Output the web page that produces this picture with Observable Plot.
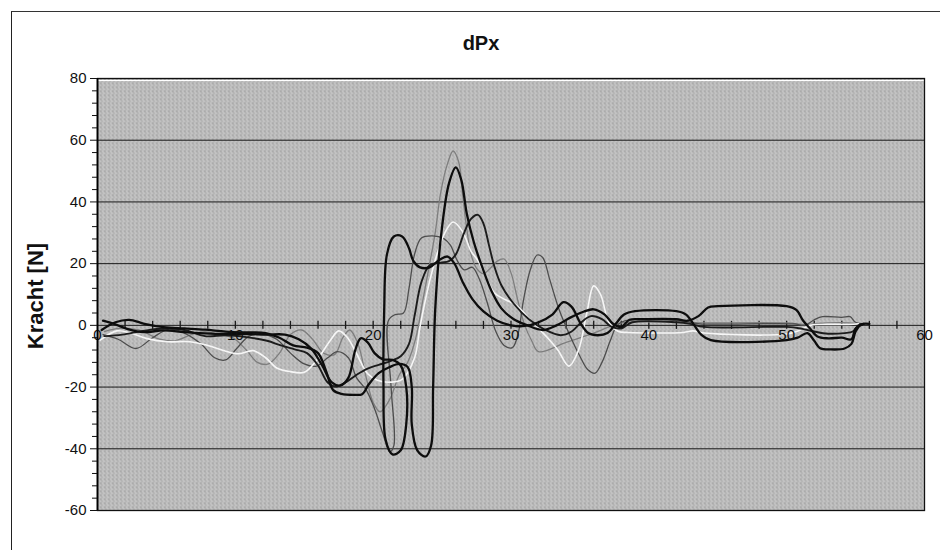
<!DOCTYPE html>
<html><head><meta charset="utf-8">
<script src="https://cdn.jsdelivr.net/npm/d3@7"></script>
<script src="https://cdn.jsdelivr.net/npm/@observablehq/plot@0.6"></script>
<style>
body{margin:0;background:#fff;width:941px;height:550px;overflow:hidden;position:relative;font-family:"Liberation Sans",Arial,sans-serif;color:#111;}
#frame{position:absolute;left:11px;top:11px;width:928px;height:560px;border-left:1.5px solid #222;border-top:1.5px solid #333;}
#title{position:absolute;left:431px;width:100px;top:30px;text-align:center;font-weight:bold;font-size:20px;line-height:26px;}
#chart{position:absolute;left:0;top:62px;}
#ylabel{position:absolute;left:36px;top:296px;transform:translate(-50%,-50%) rotate(-90deg);font-weight:bold;font-size:22px;white-space:nowrap;}
</style></head>
<body>
<div id="frame"></div>
<div id="title">dPx</div>
<div id="ylabel">Kracht [N]</div>
<div id="chart"></div>
<script>
// ---- data ----
const seriesA = [[0.4,1.5],[1.2,0.5],[2.2,-1.2],[3.4,-2.2],[4.8,-1.6],[6.3,-2.2],[7.8,-2.6],[9.3,-2.8],[10.8,-2.8],[12.3,-3],[13.6,-3],[14.6,-4.5],[15.5,-7.5],[16.3,-13],[17,-18.5],[17.6,-19.5],[18.2,-17],[18.7,-8],[19.1,-4.2],[19.6,-5.5],[20.1,-9],[20.7,-11],[21.4,-11.2],[22,-13],[22.4,-20],[22.4,-32],[22,-40.5],[21.4,-41.8],[20.9,-37],[20.75,-20],[20.8,5],[21.0,23],[21.5,28.8],[22.1,28.8],[22.6,25],[22.9,21],[23.4,18.8],[24.1,18.8],[24.8,21.2],[25.4,22.3],[25.9,20],[26.5,14],[27.2,8.5],[28,4.5],[29,1.5],[30,0],[31,-0.2],[32,1],[33,3.5],[33.8,7.5],[34.4,6],[35,1],[35.6,-2.5],[36.3,-3.2],[37,-2.5],[37.6,0.5],[38.2,3.5],[39,4.6],[42,4.6],[42.7,3.5],[43.3,0],[43.8,-3],[44.5,-4.8],[50,-4.8],[50.8,-4],[51.5,-2.5],[52,-5],[52.4,-7.3],[53.2,-7.8],[54.2,-7.5],[54.7,-6],[55,-2],[55.4,0.3],[56,0.5]];
const seriesB = [[0.3,-1.5],[1.3,1],[2.3,1.8],[3.4,0.5],[4.8,-0.6],[6.3,-1],[7.8,-1.4],[9.3,-2],[10.8,-2.3],[12.2,-2.5],[13.2,-4],[14.2,-6.5],[15.2,-7.2],[16,-9],[16.6,-15],[17.1,-21],[17.7,-22.2],[18.6,-22.5],[19.2,-22.3],[19.7,-19],[20.4,-15.5],[21.2,-13.5],[21.9,-12.5],[22.5,-13.5],[22.8,-20],[22.8,-32],[23.2,-40.5],[23.8,-42.5],[24.2,-39],[24.35,-20],[24.5,5],[24.9,28],[25.5,46],[26.0,51.2],[26.4,47],[26.8,36],[27.3,27],[27.9,19],[28.6,11],[29.3,5.5],[30.2,2],[31.2,0],[32.3,-1.5],[33.3,0],[34.3,2.5],[35.3,4.5],[36,5.2],[36.8,3.5],[37.4,0.5],[38,-0.5],[38.6,1.8],[39.5,2],[42,2],[42.8,1.5],[43.6,3],[44.3,5.8],[45,6.2],[50,6.2],[50.7,5],[51.2,1.5],[51.7,-1],[52.2,-3.5],[53,-4.2],[54,-4],[54.7,-4.5],[55,-1],[55.5,0.3]];
const seriesC = [[0.5,-3.5],[1.8,-3],[3.3,-1.8],[4.8,-1],[6.3,-1.5],[7.8,-3.5],[9.3,-3.2],[10.8,-3.8],[12.3,-5],[13.3,-6.5],[14.3,-7.8],[15.2,-9],[16,-13],[16.7,-18.5],[17.3,-19.8],[18,-18.5],[18.8,-16],[19.6,-14],[20.4,-12.8],[21.3,-11.5],[22.0,-10],[22.6,-6],[23.0,3],[23.5,14],[24.1,19.5],[24.9,20.3],[25.5,20.8],[26.0,23],[26.6,30],[27.1,34.5],[27.6,35.8],[28.0,33],[28.4,26],[28.8,19],[29.3,13],[30.2,7],[31.3,2],[32.5,-1.5],[33.6,-3.2],[34.4,-2],[35.1,1],[35.8,3],[36.6,2],[37.3,-0.5],[38,-1],[38.8,1],[42,1],[43,0.5],[44,-0.5],[50,-0.5],[51,-1],[52,-2],[53,-2.7],[54.2,-2.5],[54.8,-2],[55.2,0],[55.6,0.5]];
const seriesD = [[0.4,-3],[1.5,-4.5],[2.8,-7.5],[4,-4],[5.2,-1.2],[6.3,-2.5],[7.5,-6],[8.5,-10.5],[9.3,-11.2],[10.1,-7.5],[11,-3.5],[12,-2.8],[13,-4.5],[14,-9],[15,-12.5],[15.9,-13.2],[16.7,-10.5],[17.4,-8.5],[18.2,-10.5],[18.8,-17],[19.5,-21],[20.1,-27],[20.7,-35],[21.2,-41],[21.5,-39],[21.3,-20],[21.1,1.5],[21.6,3.5],[22.2,4],[22.6,12],[23.0,23],[23.5,28.3],[24.3,29],[25.1,28.2],[25.6,26],[26.1,21],[26.6,18],[27.2,18.8],[27.7,15],[28.3,7],[28.9,-2],[29.5,-6.5],[30.1,-7.2],[30.5,-3],[30.9,8],[31.4,18],[31.9,22.8],[32.3,22],[32.8,15],[33.5,5],[34.3,-3.5],[35,-10],[35.6,-14.5],[36.1,-15.5],[36.6,-12],[37.2,-5],[37.7,0],[38.3,1.5],[42.3,1.5],[43,1],[43.7,0.5],[50.5,0.5],[51.3,0],[52,1.8],[52.6,2.8],[54,2.6],[54.6,2.8],[55,1],[55.6,0.5]];
const seriesE = [[0.5,-2],[1.6,-1],[3,-1.5],[4.5,-4.5],[5.6,-5],[6.8,-3],[7.8,-2],[8.8,-3],[9.8,-4],[10.8,-8],[11.6,-12],[12.4,-12.5],[13.2,-9],[14,-3],[14.8,-1.5],[15.6,-4.5],[16.4,-9],[17.2,-9.5],[17.8,-4],[18.3,-1.5],[18.9,-6],[19.5,-17],[20.0,-25],[20.5,-28],[21.2,-24],[21.9,-16],[22.5,-12],[23.1,-4],[23.6,8],[24.1,20],[24.5,30],[24.9,43],[25.4,52.5],[25.8,56.5],[26.2,53],[26.5,42],[26.8,31],[27.1,23],[27.5,18.5],[28,16.8],[28.5,18.5],[29.0,20.8],[29.5,21.5],[30,17],[30.5,8],[31,0],[31.5,-5],[32,-8.5],[34,-5.5],[36,-2.5],[37.7,0.5],[38.5,1],[42,1],[43.5,0.8],[50,0.8],[51.3,0.3],[52,0.5],[53,0.8],[54.5,0.8],[55.3,0.5],[56,0.5]];
const seriesF = [[0.2,-4.8],[1.4,-1.8],[2.4,-2.5],[3.6,-4.3],[5.1,-5.3],[6.7,-5.3],[8,-6.5],[9.2,-8.2],[10.2,-9.2],[11.3,-8.2],[12.2,-10.5],[13,-13.8],[14,-15],[15,-15.2],[15.9,-11.3],[16.9,-4.8],[17.5,-1.8],[18.1,-3.8],[18.8,-9.2],[19.6,-15.7],[20.3,-17.8],[21.3,-18.4],[22.1,-17.5],[23.0,-10.6],[23.4,-0.4],[24.1,14.4],[24.7,24],[25.2,30],[25.8,33.5],[26.5,30.3],[27.1,24],[27.6,21],[28.1,16.5],[28.8,10.5],[29.6,8.3],[30.4,6.5],[31.2,2.7],[32.6,-3.8],[33.4,-8],[34.2,-13.2],[34.9,-8],[35.5,4],[36,12.8],[36.5,10],[37.1,1],[37.8,-2],[38.5,-2.3],[42.5,-2.3],[43.2,-1.8],[44,-2.5],[50,-2.8],[51,-1.5],[51.7,0],[52.5,0.3],[54.5,0.3],[55.2,0.5]];

const seriesNames = ["E","D","F","C","A","B"];
const seriesData = {A: seriesA, B: seriesB, C: seriesC, D: seriesD, E: seriesE, F: seriesF};
const seriesColor = {A: "#0d0d0d", B: "#0d0d0d", C: "#1c1c1c", D: "#4d4d4d", E: "#7e7e7e", F: "#f6f6f6"};
const seriesWidth = {A: 2.3, B: 2.3, C: 1.9, D: 1.3, E: 1.3, F: 1.6};

const xDomain = [0, 60];
const yDomain = [-60, 80];
const yMajorTicks = [-60, -40, -20, 0, 20, 40, 60, 80];
const yMinorTicks = [-56,-52,-48,-44,-36,-32,-28,-24,-16,-12,-8,-4,4,8,12,16,24,28,32,36,44,48,52,56,64,68,72,76];
const yGrid = [-40, -20, 0, 20, 40, 60];
const xTickMarks = [2,4,6,8,10,12,14,16,18,20,22,24,26,28,30,32,34,36,38,40,42,44,46,48,50,52,54,56,58];
const xTickLabels = [0, 10, 20, 30, 40, 50, 60];
const xTickHalf = 1.3;

// ---- build ----
const rows = [];
for (const s of seriesNames) seriesData[s].forEach(([x, y], i) => rows.push({s, i, x, y}));

const lineMarks = seriesNames.map(s => Plot.line(rows.filter(r => r.s === s), {
  x: "x", y: "y", stroke: seriesColor[s], strokeWidth: seriesWidth[s],
  curve: "catmull-rom", strokeLinejoin: "round", strokeLinecap: "round"
}));

const chart = Plot.plot({
  width: 941, height: 488,
  marginTop: 16, marginLeft: 97, marginRight: 17, marginBottom: 40,
  style: {fontFamily: '"Liberation Sans", Arial, sans-serif', fontSize: "15px", background: "transparent", color: "#111"},
  x: {domain: xDomain, axis: null},
  y: {domain: yDomain, axis: null},
  marks: [
    Plot.frame({fill: "url(#dither)", stroke: null}),
    Plot.ruleY([yDomain[1]], {stroke: "#ffffff", strokeWidth: 1.2, dy: 2}),
    Plot.ruleY(yGrid, {stroke: "#1a1a1a", strokeWidth: 1}),
    Plot.ruleX(xTickMarks, {x: d => d, y1: -xTickHalf, y2: xTickHalf, stroke: "#1a1a1a", strokeWidth: 1.3}),
    ...lineMarks,
    Plot.text(xTickLabels, {x: d => d, y: 0, dy: 10, text: d => String(d), fontSize: 15, fill: "#111"}),
    Plot.frame({stroke: "#111", strokeWidth: 1.3}),
    Plot.ruleX([xDomain[0]], {stroke: "#000", strokeWidth: 1.8}),
    Plot.axisY(yMinorTicks, {tickSize: 5, tickFormat: () => "", label: null, stroke: "#111"}),
    Plot.axisY(yMajorTicks, {tickSize: 7, tickPadding: 4, tickFormat: d => String(d), label: null, fontSize: 15, stroke: "#111"})
  ]
});

const ns = "http://www.w3.org/2000/svg";
const defs = document.createElementNS(ns, "defs");
defs.innerHTML = '<pattern id="dither" width="4" height="4" patternUnits="userSpaceOnUse">' +
  '<rect width="4" height="4" fill="#bababa"/>' +
  '<rect x="0" y="0" width="1" height="1" fill="#909090"/>' +
  '<rect x="2" y="1" width="1" height="1" fill="#dcdcdc"/>' +
  '<rect x="1" y="2" width="1" height="1" fill="#9c9c9c"/>' +
  '<rect x="3" y="3" width="1" height="1" fill="#d8d8d8"/>' +
  '<rect x="3" y="0" width="1" height="1" fill="#a6a6a6"/>' +
  '<rect x="1" y="3" width="1" height="1" fill="#cccccc"/>' +
  '</pattern>';
chart.prepend(defs);
document.getElementById("chart").appendChild(chart);
</script>
</body></html>
